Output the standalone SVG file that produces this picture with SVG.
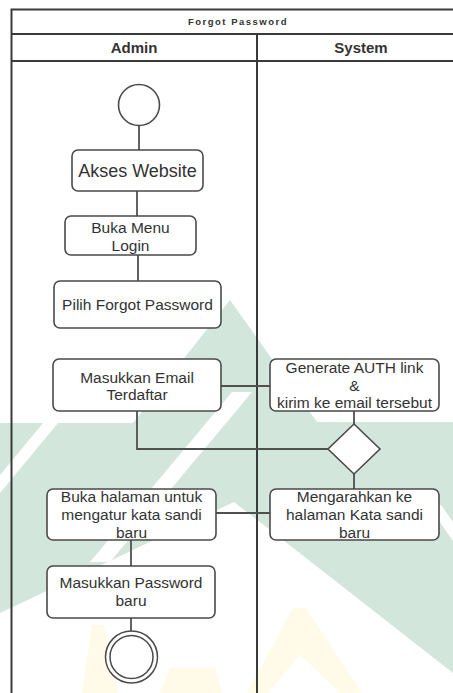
<svg xmlns="http://www.w3.org/2000/svg" width="453" height="693" viewBox="0 0 453 693">
<style>
.wm-g{fill:#d3e6db;}
.wm-w{fill:#ffffff;}
.wm-y{fill:#fffbe8;}
.frame{fill:none;stroke:#3a3a3a;stroke-width:2;}
.box{fill:#ffffff;stroke:#4a4a4a;stroke-width:1.6;}
.conn{fill:none;stroke:#505050;stroke-width:1.8;}
.t{font-family:"Liberation Sans",Arial,sans-serif;fill:#333333;text-anchor:middle;font-size:15.5px;}
.big{font-size:18px;}
.hdr{font-family:"Liberation Sans",Arial,sans-serif;fill:#333333;text-anchor:middle;font-weight:bold;font-size:15px;}
.ttl{font-family:"Liberation Sans",Arial,sans-serif;fill:#333333;text-anchor:middle;font-weight:bold;font-size:9.5px;letter-spacing:1.5px;}
</style>
<rect x="0" y="0" width="453" height="693" fill="#ffffff"/>
<g id="watermark">
  <polygon class="wm-g" points="230,300 317,422 453,422 453,673 283,540 234,502 0,613 0,423 133,423"/>
  <polygon class="wm-w" points="43,423 58,423 0,493 0,475"/>
  <polygon class="wm-w" points="232,392 252,392 110,562 90,562"/>
  <polygon class="wm-w" points="428,505 441,505 453,522 453,541"/>
  <polygon class="wm-y" points="293,608 306,608 362,693 340,693 300,655 268,693 247,693"/>
  <polygon class="wm-y" points="92,625 104,625 118,693 82,693"/>
  <polygon class="wm-y" points="170,668 215,668 222,693 160,693"/>
</g>
<g id="swimlanes">
  <path class="frame" d="M11.5,693 V9.5 H470"/>
  <line class="frame" x1="11.5" y1="34" x2="470" y2="34"/>
  <line class="frame" x1="11.5" y1="61" x2="470" y2="61"/>
  <line class="frame" x1="257" y1="34" x2="257" y2="693"/>
  <text class="ttl" x="238" y="25">Forgot Password</text>
  <text class="hdr" x="134" y="53">Admin</text>
  <text class="hdr" x="361" y="53">System</text>
</g>
<g id="connectors">
  <line class="conn" x1="139" y1="126" x2="139" y2="150"/>
  <line class="conn" x1="137" y1="191" x2="137" y2="216"/>
  <line class="conn" x1="138" y1="255" x2="138" y2="281"/>
  <line class="conn" x1="221" y1="386" x2="270" y2="386"/>
  <polyline class="conn" points="137,411 137,449 328,449"/>
  <line class="conn" x1="354" y1="411" x2="354" y2="424"/>
  <line class="conn" x1="354" y1="474" x2="354" y2="489"/>
  <line class="conn" x1="216" y1="513" x2="270" y2="513"/>
  <line class="conn" x1="131" y1="540" x2="131" y2="566"/>
  <line class="conn" x1="131" y1="618" x2="131" y2="631"/>
</g>
<g id="start">
  <circle cx="139" cy="105" r="20.5" fill="#ffffff" stroke="#4a4a4a" stroke-width="1.6"/>
</g>
<g id="akses-website">
  <rect class="box" x="72" y="150" width="131" height="41" rx="6"/>
  <text class="t big" x="137.5" y="177">Akses Website</text>
</g>
<g id="buka-menu-login">
  <rect class="box" x="65" y="216" width="131" height="39" rx="6"/>
  <text class="t" x="130.5" y="233">Buka Menu</text>
  <text class="t" x="130.5" y="251">Login</text>
</g>
<g id="pilih-forgot-password">
  <rect class="box" x="54" y="281" width="167" height="47" rx="6"/>
  <text class="t" x="137.5" y="310">Pilih Forgot Password</text>
</g>
<g id="masukkan-email">
  <rect class="box" x="53" y="359" width="168" height="52" rx="6"/>
  <text class="t" x="137" y="383">Masukkan Email</text>
  <text class="t" x="137" y="400">Terdaftar</text>
</g>
<g id="generate-auth">
  <rect class="box" x="270" y="359" width="169" height="52" rx="6"/>
  <text class="t" x="354.5" y="373">Generate AUTH link</text>
  <text class="t" x="354.5" y="391">&amp;</text>
  <text class="t" x="354.5" y="408">kirim ke email tersebut</text>
</g>
<g id="decision">
  <polygon points="354,424 380,449 354,474 328,449" fill="#ffffff" stroke="#4a4a4a" stroke-width="1.6"/>
</g>
<g id="mengarahkan">
  <rect class="box" x="270" y="489" width="169" height="51" rx="6"/>
  <text class="t" x="354.5" y="502">Mengarahkan ke</text>
  <text class="t" x="354.5" y="520">halaman Kata sandi</text>
  <text class="t" x="354.5" y="538">baru</text>
</g>
<g id="buka-halaman">
  <rect class="box" x="47" y="489" width="169" height="51" rx="6"/>
  <text class="t" x="131.5" y="502">Buka halaman untuk</text>
  <text class="t" x="131.5" y="520">mengatur kata sandi</text>
  <text class="t" x="131.5" y="538">baru</text>
</g>
<g id="masukkan-password">
  <rect class="box" x="47" y="566" width="168" height="52" rx="6"/>
  <text class="t" x="131" y="588">Masukkan Password</text>
  <text class="t" x="131" y="606">baru</text>
</g>
<g id="end">
  <circle cx="131.5" cy="657" r="26" fill="#ffffff" stroke="#4a4a4a" stroke-width="1.5"/>
  <circle cx="131.5" cy="657" r="21.5" fill="#ffffff" stroke="#4a4a4a" stroke-width="1.5"/>
</g>
</svg>
